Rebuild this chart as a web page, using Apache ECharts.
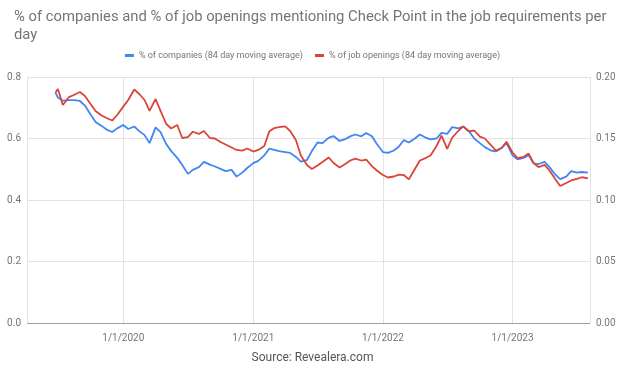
<!DOCTYPE html>
<html>
<head>
<meta charset="utf-8">
<script src="https://cdn.jsdelivr.net/npm/echarts@6/dist/echarts.min.js"></script>
<style>
  html, body { margin: 0; padding: 0; background: #fff; }
  #main { width: 625px; height: 369px; }
</style>
</head>
<body>
<div id="main"></div>
<script>
// sample dates: first point, then 1st and 15th of every month up to 2023-08-01
const dates = ['2019-06-24']
for (let y = 2019; y <= 2023; y++) {
  for (let m = 1; m <= 12; m++) {
    if (y === 2019 && m < 7) continue
    const mm = (m < 10 ? '0' : '') + m
    dates.push(y + '-' + mm + '-01')
    if (y === 2023 && m === 8) break
    dates.push(y + '-' + mm + '-15')
  }
  if (y === 2023) break
}

// % of companies (left axis)
const companies = [
  0.749, 0.733, 0.723, 0.725, 0.725, 0.722, 0.707, 0.678, 0.654, 0.641,
  0.629, 0.621, 0.633, 0.644, 0.631, 0.639, 0.624, 0.611, 0.585, 0.636,
  0.621, 0.582, 0.559, 0.537, 0.514, 0.485, 0.498, 0.507, 0.524, 0.515,
  0.509, 0.501, 0.494, 0.498, 0.476, 0.489, 0.504, 0.520, 0.527, 0.545,
  0.567, 0.563, 0.559, 0.556, 0.553, 0.540, 0.525, 0.530, 0.559, 0.587,
  0.585, 0.602, 0.608, 0.592, 0.597, 0.607, 0.613, 0.607, 0.618, 0.607,
  0.582, 0.556, 0.553, 0.561, 0.574, 0.595, 0.587, 0.600, 0.613, 0.603,
  0.597, 0.600, 0.618, 0.615, 0.637, 0.633, 0.639, 0.623, 0.600, 0.585,
  0.572, 0.561, 0.558, 0.569, 0.585, 0.545, 0.532, 0.537, 0.546, 0.519,
  0.517, 0.524, 0.507, 0.483, 0.468, 0.476, 0.494, 0.489, 0.491, 0.489
]

// % of job openings (right axis)
const jobOpenings = [
  0.1872, 0.1902, 0.1772, 0.1837, 0.1854, 0.1878, 0.1846, 0.1780, 0.1724, 0.1687,
  0.1667, 0.1646, 0.1691, 0.1759, 0.1813, 0.1898, 0.1862, 0.1813, 0.1724, 0.1821,
  0.1724, 0.1618, 0.1581, 0.1610, 0.1504, 0.1512, 0.1555, 0.1537, 0.1561, 0.1504,
  0.1500, 0.1472, 0.1451, 0.1427, 0.1407, 0.1402, 0.1419, 0.1394, 0.1407, 0.1439,
  0.1557, 0.1585, 0.1593, 0.1598, 0.1561, 0.1488, 0.1362, 0.1285, 0.1252, 0.1280,
  0.1309, 0.1346, 0.1301, 0.1264, 0.1289, 0.1321, 0.1337, 0.1321, 0.1329, 0.1276,
  0.1240, 0.1203, 0.1183, 0.1191, 0.1207, 0.1203, 0.1168, 0.1252, 0.1321, 0.1341,
  0.1362, 0.1439, 0.1524, 0.1415, 0.1508, 0.1561, 0.1598, 0.1557, 0.1565, 0.1515,
  0.1500, 0.1447, 0.1402, 0.1423, 0.1474, 0.1386, 0.1341, 0.1350, 0.1378, 0.1301,
  0.1268, 0.1285, 0.1240, 0.1171, 0.1114, 0.1138, 0.1159, 0.1171, 0.1185, 0.1176
]

const leftTicks = [0, 0.8, 0.2]   // min, max, interval
const rightTicks = [0, 0.2, 0.05]

const chart = echarts.init(document.getElementById('main'))
const gray = '#757575'

const option = {
  backgroundColor: '#fff',
  animation: false,
  textStyle: { fontFamily: 'Roboto' },
  title: {
    text: '% of companies and % of job openings mentioning Check Point in the job requirements per\nday',
    left: 9,
    top: 3,
    textStyle: { color: gray, fontSize: 14.8, fontWeight: 'normal', lineHeight: 18 }
  },
  legend: {
    top: 46,
    left: 'center',
    icon: 'rect',
    itemWidth: 9,
    itemHeight: 3,
    itemGap: 12,
    textStyle: { color: gray, fontSize: 9 },
    data: ['% of companies (84 day moving average)', '% of job openings (84 day moving average)']
  },
  grid: { left: 27, right: 35, top: 77, bottom: 46 },
  xAxis: {
    type: 'time',
    min: '2019-04-05',
    max: '2023-08-07',
    splitNumber: 4,
    minInterval: 365 * 24 * 3600 * 1000,
    axisLine: { show: false },
    axisTick: { show: false },
    axisLabel: {
      color: gray,
      fontSize: 10,
      margin: 10,
      formatter: function (v) {
        const d = new Date(v)
        return (d.getMonth() + 1) + '/' + d.getDate() + '/' + d.getFullYear()
      }
    },
    splitLine: { show: true, lineStyle: { color: '#e3e3e3' } }
  },
  yAxis: [
    {
      type: 'value',
      min: leftTicks[0], max: leftTicks[1], interval: leftTicks[2],
      axisLine: { show: false },
      axisTick: { show: false },
      axisLabel: { color: gray, fontSize: 10, margin: 6, formatter: v => v.toFixed(1) },
      splitLine: { lineStyle: { color: '#e3e3e3' } }
    },
    {
      type: 'value',
      min: rightTicks[0], max: rightTicks[1], interval: rightTicks[2],
      axisLine: { show: false },
      axisTick: { show: false },
      axisLabel: { color: gray, fontSize: 10, margin: 6, formatter: v => v.toFixed(2) },
      splitLine: { show: false }
    }
  ],
  series: [
    {
      name: '% of companies (84 day moving average)',
      type: 'line',
      yAxisIndex: 0,
      symbol: 'none',
      color: '#4285F4',
      lineStyle: { width: 1.8 },
      data: dates.map((d, i) => [d, companies[i]]),
      // darker baseline at zero
      markLine: {
        silent: true,
        symbol: 'none',
        label: { show: false },
        lineStyle: { color: '#9e9e9e', type: 'solid', width: 1.2 },
        data: [{ yAxis: 0 }]
      }
    },
    {
      name: '% of job openings (84 day moving average)',
      type: 'line',
      yAxisIndex: 1,
      symbol: 'none',
      color: '#DB4437',
      lineStyle: { width: 1.8 },
      data: dates.map((d, i) => [d, jobOpenings[i]])
    }
  ],
  graphic: [
    {
      type: 'text',
      left: 'center',
      top: 352,
      style: { text: 'Source: Revealera.com', fill: '#555', fontSize: 12, fontFamily: 'Roboto' }
    }
  ]
}

chart.setOption(option)
</script>
</body>
</html>
